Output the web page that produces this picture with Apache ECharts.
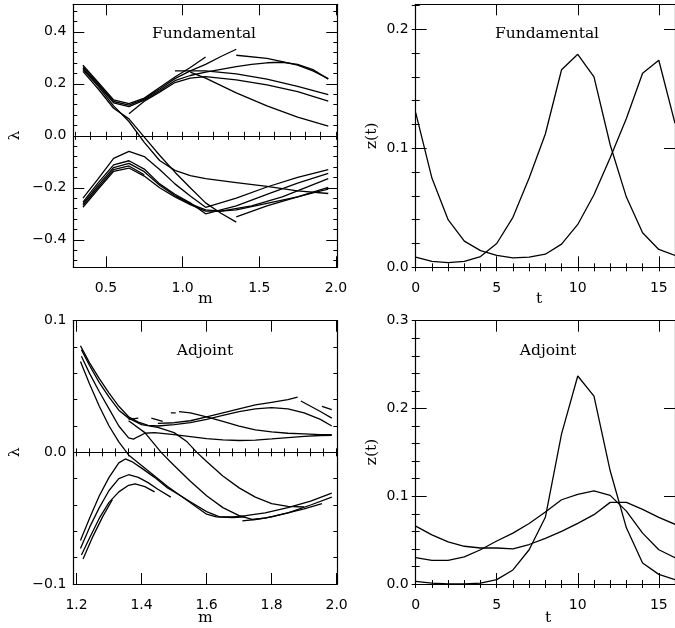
<!DOCTYPE html>
<html><head><meta charset="utf-8">
<script src="https://cdn.jsdelivr.net/npm/echarts@6/dist/echarts.min.js"></script>
<style>html,body{margin:0;padding:0;background:#fff}#c{width:675px;height:628px}</style>
</head><body><div id="c"></div><script>
// ---------- Tick values ----------
const tlMajorX = [0.5, 1.0, 1.5, 2.0];
const tlMajorY = [-0.4, -0.2, 0, 0.2, 0.4];
const trMajorX = [0, 5, 10, 15];
const trMajorY = [0, 0.1, 0.2];
const blMajorX = [1.2, 1.4, 1.6, 1.8, 2.0];
const blMajorY = [-0.1, 0, 0.1];
const brMajorY = [0, 0.1, 0.2, 0.3];

// ---------- Fundamental: lambda vs m ----------
const fundUpper1 = [[0.35,0.272],[0.45,0.205],[0.55,0.138],[0.65,0.124],[0.75,0.145],[0.85,0.186],[0.95,0.226],[1.05,0.263],[1.15,0.303]];
const fundUpper2 = [[0.35,0.266],[0.45,0.2],[0.55,0.132],[0.65,0.118],[0.75,0.141],[0.85,0.18],[0.95,0.22],[1.05,0.25],[1.15,0.275],[1.25,0.305],[1.35,0.333]];
const fundUpper3 = [[0.35,0.26],[0.45,0.195],[0.55,0.127],[0.65,0.112],[0.75,0.137],[0.85,0.174],[0.95,0.212],[1.05,0.232],[1.15,0.245],[1.25,0.256],[1.35,0.266],[1.45,0.275],[1.55,0.281],[1.65,0.283],[1.75,0.275],[1.85,0.255],[1.95,0.218]];
const fundUpper4 = [[0.65,0.085],[0.75,0.133],[0.85,0.168],[0.95,0.205],[1.05,0.222],[1.15,0.228],[1.35,0.215],[1.55,0.196],[1.75,0.17],[1.95,0.133]];
const fundUpper5 = [[0.95,0.25],[1.05,0.25],[1.15,0.25],[1.35,0.238],[1.55,0.218],[1.75,0.19],[1.95,0.158]];
const fundUpper6 = [[1.05,0.245],[1.15,0.222],[1.35,0.165],[1.55,0.115],[1.75,0.072],[1.95,0.037]];
const fundUpper7 = [[1.35,0.31],[1.55,0.298],[1.65,0.285],[1.75,0.272],[1.85,0.25],[1.95,0.22]];
const fundCross1 = [[0.35,0.255],[0.45,0.19],[0.55,0.115],[0.65,0.055],[0.75,-0.025],[0.85,-0.095],[0.95,-0.133],[1.05,-0.153],[1.15,-0.165],[1.35,-0.18],[1.55,-0.195],[1.75,-0.212],[1.95,-0.222]];
const fundCross2 = [[0.35,0.248],[0.45,0.18],[0.55,0.106],[0.65,0.065],[0.75,-0.005],[0.85,-0.075],[0.95,-0.14],[1.05,-0.2],[1.15,-0.258],[1.25,-0.298],[1.35,-0.332]];
const fundLower1 = [[0.35,-0.24],[0.45,-0.165],[0.55,-0.087],[0.65,-0.06],[0.75,-0.08],[0.85,-0.13],[0.95,-0.185],[1.05,-0.232],[1.15,-0.275],[1.35,-0.24],[1.55,-0.197],[1.75,-0.16],[1.95,-0.13]];
const fundLower2 = [[0.35,-0.255],[0.45,-0.18],[0.55,-0.112],[0.65,-0.096],[0.75,-0.128],[0.85,-0.185],[0.95,-0.225],[1.05,-0.258],[1.15,-0.3],[1.35,-0.27],[1.55,-0.225],[1.75,-0.182],[1.95,-0.145]];
const fundLower3 = [[0.35,-0.262],[0.45,-0.19],[0.55,-0.122],[0.65,-0.106],[0.75,-0.138],[0.85,-0.19],[0.95,-0.23],[1.05,-0.262],[1.15,-0.285],[1.25,-0.29],[1.45,-0.27],[1.65,-0.235],[1.95,-0.165]];
const fundLower4 = [[0.35,-0.268],[0.45,-0.198],[0.55,-0.13],[0.65,-0.116],[0.75,-0.15]];
const fundLower5 = [[0.35,-0.275],[0.45,-0.205],[0.55,-0.137],[0.65,-0.124],[0.75,-0.155],[0.85,-0.2],[0.95,-0.235],[1.05,-0.265],[1.15,-0.29],[1.25,-0.29],[1.35,-0.285],[1.55,-0.26],[1.75,-0.235],[1.85,-0.22],[1.95,-0.205]];
const fundLower6 = [[1.35,-0.312],[1.55,-0.27],[1.75,-0.235],[1.95,-0.198]];

// ---------- Fundamental: z(t) ----------
const tVals = [0,1,2,3,4,5,6,7,8,9,10,11,12,13,14,15,16];
const zFund1 = [0.13,0.075,0.04,0.022,0.014,0.010,0.008,0.0085,0.011,0.0195,0.036,0.061,0.092,0.125,0.163,0.174,0.121];
const zFund2 = [0.0085,0.005,0.004,0.005,0.009,0.02,0.042,0.075,0.112,0.166,0.179,0.16,0.103,0.059,0.029,0.015,0.010];

// ---------- Adjoint: lambda vs m ----------
const adjUpper1 = [[1.212,0.081],[1.24,0.068],[1.27,0.056],[1.30,0.045],[1.33,0.035],[1.36,0.027],[1.39,0.023],[1.42,0.0205],[1.45,0.02],[1.5,0.021],[1.55,0.0225],[1.6,0.025],[1.65,0.028],[1.7,0.031],[1.75,0.033],[1.8,0.034],[1.85,0.033],[1.9,0.03],[1.95,0.025],[1.985,0.02]];
const adjUpper2 = [[1.215,0.078],[1.24,0.066],[1.27,0.053],[1.30,0.042],[1.33,0.032],[1.36,0.026],[1.4,0.021],[1.45,0.019],[1.5,0.015],[1.54,0.008],[1.57,0],[1.6,-0.007],[1.65,-0.018],[1.7,-0.027],[1.75,-0.034],[1.8,-0.039],[1.85,-0.041],[1.9,-0.0415]];
const adjUpper3 = [[1.215,0.073],[1.24,0.06],[1.27,0.046],[1.30,0.033],[1.33,0.02],[1.36,0.011],[1.375,0.01],[1.39,0.012],[1.41,0.0145],[1.44,0.015],[1.5,0.0135],[1.55,0.012],[1.6,0.0105],[1.65,0.0095],[1.7,0.009],[1.75,0.0093],[1.8,0.0102],[1.85,0.0112],[1.9,0.0122],[1.95,0.0128],[1.985,0.013]];
const adjUpper4 = [[1.212,0.069],[1.24,0.052],[1.27,0.035],[1.30,0.02],[1.33,0.008],[1.36,-0.002],[1.4,-0.01],[1.44,-0.018],[1.48,-0.026],[1.52,-0.033],[1.56,-0.04],[1.6,-0.047],[1.63,-0.049],[1.68,-0.0495],[1.72,-0.049]];
const adjMid = [[1.36,0.024],[1.41,0.015],[1.44,0.006],[1.46,0],[1.5,-0.01],[1.55,-0.022],[1.6,-0.033],[1.65,-0.042],[1.7,-0.048],[1.74,-0.051],[1.78,-0.05],[1.85,-0.046],[1.92,-0.04],[1.985,-0.034]];
const adjLower1 = [[1.212,-0.067],[1.24,-0.05],[1.27,-0.033],[1.30,-0.019],[1.33,-0.008],[1.35,-0.005],[1.37,-0.007],[1.40,-0.012],[1.44,-0.019],[1.48,-0.027],[1.52,-0.033],[1.56,-0.039],[1.6,-0.045],[1.64,-0.049],[1.68,-0.049],[1.72,-0.048],[1.78,-0.046],[1.85,-0.042],[1.92,-0.037],[1.985,-0.031]];
const adjLower2 = [[1.212,-0.073],[1.24,-0.057],[1.27,-0.042],[1.30,-0.029],[1.33,-0.02],[1.36,-0.017],[1.39,-0.019],[1.42,-0.023],[1.45,-0.028],[1.49,-0.034]];
const adjLower3 = [[1.215,-0.078],[1.24,-0.065],[1.27,-0.05],[1.30,-0.038],[1.33,-0.03],[1.36,-0.025],[1.38,-0.024],[1.41,-0.026],[1.44,-0.03]];
const adjLower4 = [[1.22,-0.081],[1.25,-0.064],[1.28,-0.049],[1.31,-0.036]];
const adjLower5 = [[1.71,-0.052],[1.75,-0.051],[1.8,-0.049],[1.85,-0.046],[1.9,-0.043],[1.955,-0.039]];
const adjFrag1 = [[1.36,0.025],[1.39,0.026]];
const adjFrag2 = [[1.43,0.026],[1.465,0.0235]];
const adjFrag3 = [[1.49,0.03],[1.505,0.03]];
const adjFrag4 = [[1.515,0.031],[1.55,0.03],[1.6,0.027],[1.65,0.0235],[1.7,0.02],[1.75,0.017],[1.8,0.0155],[1.85,0.0145],[1.9,0.014],[1.95,0.0135],[1.985,0.0135]];
const adjFrag5 = [[1.45,0.022],[1.5,0.0225],[1.55,0.024],[1.6,0.027],[1.65,0.03],[1.7,0.033],[1.75,0.036],[1.8,0.038],[1.85,0.04],[1.88,0.042]];
const adjFrag6 = [[1.89,0.039],[1.92,0.035],[1.95,0.031],[1.985,0.026]];
const adjFrag7 = [[1.955,0.035],[1.985,0.0325]];

// ---------- Adjoint: z(t) ----------
const zAdj1 = [0.003,0.001,0,0,0.001,0.005,0.016,0.039,0.076,0.171,0.237,0.214,0.129,0.064,0.024,0.011,0.005];
const zAdj2 = [0.03,0.027,0.027,0.031,0.039,0.049,0.058,0.069,0.082,0.096,0.102,0.106,0.101,0.083,0.058,0.039,0.03];
const zAdj3 = [0.066,0.056,0.048,0.043,0.041,0.041,0.04,0.045,0.052,0.06,0.069,0.079,0.093,0.093,0.085,0.076,0.068];

// ---------- helpers ----------
function steps(a, b, s) { const out = []; const n = Math.round((b - a) / s); for (let k = 0; k <= n; k++) out.push(Math.round((a + k * s) * 10000) / 10000); return out; }
const fmt1 = v => (v < 0 ? '\u2212' : '') + Math.abs(v).toFixed(1);
const fmtInt = v => String(Math.round(v));
const SANS = '"DejaVu Sans", sans-serif';
const SERIF = '"DejaVu Serif", serif';

function makeAxes(dim, gi, min, max, major, minor, fmt, margin) {
  const pos = dim === 'x' ? ['bottom', 'top'] : ['left', 'right'];
  const base = { type: 'value', gridIndex: gi, min: min, max: max, splitLine: { show: false }, axisPointer: { show: false } };
  const line = { show: true, onZero: false, lineStyle: { color: '#000', width: 1.2 } };
  const tick = (vals, len) => ({ show: true, inside: true, length: len, customValues: vals, lineStyle: { color: '#000', width: 1 } });
  return [
    Object.assign({}, base, { position: pos[0], axisLine: line, axisTick: tick(major, 11),
      axisLabel: { show: true, customValues: major, formatter: fmt, margin: margin, color: '#000', fontSize: 14, fontFamily: SANS } }),
    Object.assign({}, base, { position: pos[0], axisLine: { show: false }, axisTick: tick(minor, 4), axisLabel: { show: false } }),
    Object.assign({}, base, { position: pos[1], axisLine: line, axisTick: tick(major, 11), axisLabel: { show: false } }),
    Object.assign({}, base, { position: pos[1], axisLine: { show: false }, axisTick: tick(minor, 4), axisLabel: { show: false } })
  ];
}

const xAxes = [].concat(
  makeAxes('x', 0, 0.287, 2.009, tlMajorX, steps(0.3, 2.0, 0.1), fmt1, 14),
  makeAxes('x', 1, 0, 16, trMajorX, steps(0, 16, 1), fmtInt, 14),
  makeAxes('x', 2, 1.19, 2.002, blMajorX, steps(1.2, 2.0, 0.04), fmt1, 14),
  makeAxes('x', 3, 0, 16, trMajorX, steps(0, 16, 1), fmtInt, 14)
);
const yAxes = [].concat(
  makeAxes('y', 0, -0.506, 0.506, tlMajorY, steps(-0.48, 0.48, 0.04), fmt1, 7),
  makeAxes('y', 1, 0, 0.221, trMajorY, steps(0, 0.22, 0.02), fmt1, 7),
  makeAxes('y', 2, -0.1, 0.1, blMajorY, steps(-0.1, 0.1, 0.02), fmt1, 7),
  makeAxes('y', 3, 0, 0.3, brMajorY, steps(0, 0.3, 0.02), fmt1, 7)
);

function curve(gi, data, extra) {
  return Object.assign({ type: 'line', xAxisIndex: 4 * gi, yAxisIndex: 4 * gi, data: data, symbol: 'none', showSymbol: false,
    silent: true, clip: true, lineStyle: { color: '#000', width: 1.3 } }, extra || {});
}
function tCurve(gi, vals) { return curve(gi, tVals.map((t, i) => [t, vals[i]])); }
const zeroLine = { markLine: { silent: true, symbol: 'none', label: { show: false }, lineStyle: { color: '#000', width: 1.2, type: 'solid' }, data: [{ yAxis: 0 }] } };

const series = [
  curve(0, fundUpper1, zeroLine), curve(0, fundUpper2), curve(0, fundUpper3), curve(0, fundUpper4),
  curve(0, fundUpper5), curve(0, fundUpper6), curve(0, fundUpper7), curve(0, fundCross1), curve(0, fundCross2),
  curve(0, fundLower1), curve(0, fundLower2), curve(0, fundLower3), curve(0, fundLower4), curve(0, fundLower5), curve(0, fundLower6),
  tCurve(1, zFund1), tCurve(1, zFund2),
  curve(2, adjUpper1, zeroLine), curve(2, adjUpper2), curve(2, adjUpper3), curve(2, adjUpper4), curve(2, adjMid),
  curve(2, adjLower1), curve(2, adjLower2), curve(2, adjLower3), curve(2, adjLower4), curve(2, adjLower5),
  curve(2, adjFrag1), curve(2, adjFrag2), curve(2, adjFrag3), curve(2, adjFrag4), curve(2, adjFrag5), curve(2, adjFrag6), curve(2, adjFrag7),
  tCurve(3, zAdj1), tCurve(3, zAdj2), tCurve(3, zAdj3)
];

function txt(s, x, y, rot) {
  return { type: 'text', x: x, y: y, rotation: rot || 0, silent: true,
    style: { text: s, align: 'center', verticalAlign: 'middle', fill: '#000', fontSize: 15.5, fontFamily: SERIF } };
}

const chart = echarts.init(document.getElementById('c'), null, { renderer: 'canvas' });
chart.setOption({
  animation: false,
  backgroundColor: '#fff',
  grid: [
    { left: 73.3, top: 4.3, width: 264, height: 263 },
    { left: 415.7, top: 4.3, width: 264, height: 263 },
    { left: 73.3, top: 320.7, width: 264, height: 263.3 },
    { left: 415.7, top: 320.7, width: 264, height: 263.3 }
  ],
  xAxis: xAxes,
  yAxis: yAxes,
  series: series,
  graphic: [
    txt('Fundamental', 204, 34), txt('Fundamental', 547, 34),
    txt('Adjoint', 205, 351), txt('Adjoint', 548, 351),
    txt('m', 205.3, 299), txt('t', 539, 299), txt('m', 205.3, 618), txt('t', 548, 618),
    txt('\u03bb', 15, 135.7, Math.PI / 2), txt('\u03bb', 15, 452.3, Math.PI / 2),
    txt('z(t)', 372, 135.8, Math.PI / 2), txt('z(t)', 372, 452, Math.PI / 2)
  ]
});
</script></body></html>
